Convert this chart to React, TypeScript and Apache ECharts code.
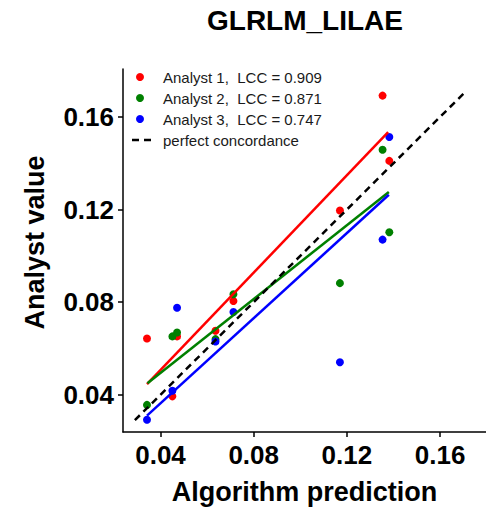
import React, { useEffect, useRef } from "react";
import * as echarts from "echarts";

const FONT = "'Liberation Sans', Arial, Helvetica, sans-serif";

const chartTitle = "GLRLM_LILAE";
const xAxisTitle = "Algorithm prediction";
const yAxisTitle = "Analyst value";

const xPred = [0.0342, 0.0451, 0.0471, 0.0636, 0.0713, 0.117, 0.1353, 0.1382];
const analyst1 = [0.0643, 0.0393, 0.0652, 0.0676, 0.0805, 0.1196, 0.1692, 0.141];
const analyst2 = [0.0356, 0.0652, 0.0669, 0.064, 0.0834, 0.0882, 0.1458, 0.1102];
const analyst3 = [0.0292, 0.0417, 0.0776, 0.063, 0.0757, 0.054, 0.107, 0.1513];

const fit1X = [0.0342, 0.1377];
const fit1Y = [0.0446, 0.1534];
const fit2X = [0.0344, 0.138];
const fit2Y = [0.045, 0.1276];
const fit3X = [0.0342, 0.138];
const fit3Y = [0.031, 0.1264];
const diagonal = [0.029, 0.17];

const tickValues = [0.04, 0.08, 0.12, 0.16];
const tickLabels = ["0.04", "0.08", "0.12", "0.16"];

const seriesNames = [
  "Analyst 1,  LCC = 0.909",
  "Analyst 2,  LCC = 0.871",
  "Analyst 3,  LCC = 0.747",
  "perfect concordance",
];
const colors = ["#FF0000", "#008000", "#0000FF", "#000000"];

const pairs = (xs: number[], ys: number[]) => xs.map((x, i) => [x, ys[i]]);
const fmt = (v: number) => {
  const i = tickValues.findIndex((t) => Math.abs(t - v) < 1e-9);
  return i >= 0 ? tickLabels[i] : "";
};

export default function App() {
  const ref = useRef<HTMLDivElement>(null);
  useEffect(() => {
    if (!ref.current) return;
    const chart = echarts.init(ref.current, null, { renderer: "svg" });
    const pointsSeries = [analyst1, analyst2, analyst3].map((ys, k) => ({
      type: "scatter",
      name: seriesNames[k],
      data: pairs(xPred, ys),
      symbol: "circle",
      symbolSize: 8,
      itemStyle: { color: colors[k], opacity: 1 },
      z: 2,
    }));
    const fits = [
      [fit1X, fit1Y],
      [fit2X, fit2Y],
      [fit3X, fit3Y],
    ].map(([xs, ys], k) => ({
      type: "line",
      name: seriesNames[k] + " fit",
      data: pairs(xs, ys),
      symbol: "none",
      lineStyle: { color: colors[k], width: 2.5 },
      z: 3,
    }));
    const diag = {
      type: "line",
      name: seriesNames[3],
      data: pairs(diagonal, diagonal),
      symbol: "none",
      lineStyle: { color: "#000", width: 2.5, type: [7, 5] },
      z: 4,
    };
    const legendRows = [77, 98, 119, 140];
    const legendChildren: any[] = [];
    seriesNames.forEach((name, k) => {
      if (k < 3) {
        legendChildren.push({
          type: "circle",
          shape: { cx: 140, cy: legendRows[k], r: 4 },
          style: { fill: colors[k] },
        });
      } else {
        legendChildren.push({
          type: "line",
          shape: { x1: 132, y1: legendRows[k], x2: 152, y2: legendRows[k] },
          style: { stroke: "#000", lineWidth: 2.5, lineDash: [7, 5] },
        });
      }
      legendChildren.push({
        type: "text",
        x: 163,
        y: legendRows[k],
        style: {
          text: name,
          fill: "#1a1a1a",
          font: `15px ${FONT}`,
          textAlign: "left",
          textVerticalAlign: "middle",
        },
      });
    });

    chart.setOption({
      animation: false,
      backgroundColor: "#fff",
      grid: { left: 123, right: 0, top: 69, bottom: 77, containLabel: false },
      xAxis: {
        type: "value",
        min: 0.0239,
        max: 0.1797,
        name: xAxisTitle,
        nameLocation: "middle",
        nameGap: 46,
        nameTextStyle: { fontFamily: FONT, fontSize: 27, fontWeight: "bold", color: "#000" },
        axisLine: { show: true, onZero: false, lineStyle: { color: "#000", width: 1.5 } },
        axisTick: { show: true, length: 5, customValues: tickValues, lineStyle: { color: "#000", width: 1.5 } },
        axisLabel: {
          customValues: tickValues,
          formatter: fmt,
          margin: 10,
          fontFamily: FONT,
          fontSize: 26,
          fontWeight: "bold",
          color: "#000",
        },
        splitLine: { show: false },
      },
      yAxis: {
        type: "value",
        min: 0.0239,
        max: 0.1807,
        axisLine: { show: true, onZero: false, lineStyle: { color: "#000", width: 1.5 } },
        axisTick: { show: true, length: 5, customValues: tickValues, lineStyle: { color: "#000", width: 1.5 } },
        axisLabel: {
          customValues: tickValues,
          formatter: fmt,
          margin: 9,
          fontFamily: FONT,
          fontSize: 26,
          fontWeight: "bold",
          color: "#000",
        },
        splitLine: { show: false },
      },
      graphic: [
        {
          type: "text",
          x: 305,
          y: 20,
          style: {
            text: chartTitle,
            font: `bold 28px ${FONT}`,
            fill: "#000",
            textAlign: "center",
            textVerticalAlign: "middle",
          },
        },
        {
          type: "text",
          x: 35,
          y: 242.5,
          rotation: Math.PI / 2,
          style: {
            text: yAxisTitle,
            font: `bold 27px ${FONT}`,
            fill: "#000",
            textAlign: "center",
            textVerticalAlign: "middle",
          },
        },
        { type: "group", children: legendChildren },
      ],
      series: [...pointsSeries, ...fits, diag],
    });
    return () => chart.dispose();
  }, []);
  return (
    <div
      ref={ref}
      style={{ position: "absolute", left: 0, top: 0, width: 486, height: 510 }}
    />
  );
}
